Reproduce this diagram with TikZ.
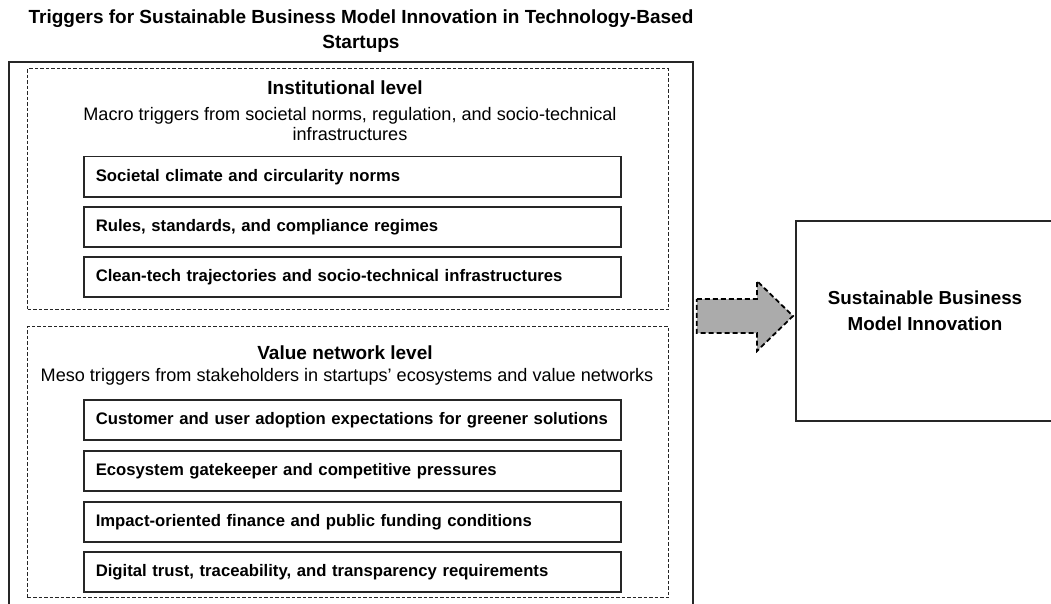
\documentclass[tikz,border=0pt]{standalone}
\usepackage{fontspec}
\setmainfont{Liberation Sans}
\usetikzlibrary{calc}
\begin{document}
\begin{tikzpicture}[x=1pt,y=-1pt,
  frame/.style={draw=black!85, line width=1.8pt, anchor=north west, inner sep=0pt},
  levelbox/.style={draw=black!85, dash pattern=on 3.5pt off 2pt, line width=1.2pt, anchor=north west, inner sep=0pt},
  trigger/.style={draw=black!85, line width=1.5pt, anchor=north west, minimum width=537pt, minimum height=40pt,
    text width=513pt, inner xsep=12pt, align=left, font=\bfseries\fontsize{16.7}{19}\selectfont},
  heading/.style={font=\bfseries\fontsize{19}{22}\selectfont},
  desc/.style={font=\fontsize{18.1}{19.5}\selectfont, align=center},
  blockarrow/.style={draw=black, dash pattern=on 5pt off 3pt, line width=1.8pt, fill=black!33, line join=miter}
]
\useasboundingbox (0,0) rectangle (1051,604);
\clip (0,0) rectangle (1051,604);
\fill[white] (0,0) rectangle (1051,604);

% title
\node[font=\bfseries\fontsize{19}{25}\selectfont, align=center] (title) at (361,31)
  {Triggers for Sustainable Business Model Innovation in Technology-Based\\Startups};

% outer frame of the triggers
\node[frame, minimum width=684pt, minimum height=560pt] (outer) at (8,61) {};

% institutional level
\node[levelbox, minimum width=641pt, minimum height=241pt] (inst) at (27,68) {};
\node[heading] (insthead) at (345,88) {Institutional level};
\node[desc] (instdesc) at (350,124) {Macro triggers from societal norms, regulation, and socio-technical\\infrastructures};
\node[trigger] (t1) at (83,156) {Societal climate and circularity norms};
\node[trigger] (t2) at (83,206) {Rules, standards, and compliance regimes};
\node[trigger] (t3) at (83,256) {Clean-tech trajectories and socio-technical infrastructures};

% value network level
\node[levelbox, minimum width=641pt, minimum height=271pt] (vnet) at (27,326) {};
\node[heading] (vnethead) at (345,353) {Value network level};
\node[desc] (vnetdesc) at (347,377) {Meso triggers from stakeholders in startups’ ecosystems and value networks};
\node[trigger] (v1) at (83,399) {Customer and user adoption expectations for greener solutions};
\node[trigger] (v2) at (83,450) {Ecosystem gatekeeper and competitive pressures};
\node[trigger] (v3) at (83,501) {Impact-oriented finance and public funding conditions};
\node[trigger] (v4) at (83,551) {Digital trust, traceability, and transparency requirements};

% outcome
\node[frame, minimum width=262pt, minimum height=200pt] (sbmi) at (795,220) {};
\node[font=\bfseries\fontsize{18.8}{26}\selectfont, align=center] (sbmitext) at (925,311)
  {Sustainable Business\\Model Innovation};

% block arrow from the triggers to the outcome
\coordinate (atail) at ($(outer.east |- 0,316)+(3,0)$);
\coordinate (atip) at ($(sbmi.west |- atail)+(-2,0)$);
\draw[blockarrow]
  ($(atail)+(0,-17)$) -- ($(atip)+(-36,-17)$) -- ($(atip)+(-36,-35)$) -- (atip)
  -- ($(atip)+(-36,35)$) -- ($(atip)+(-36,17)$) -- ($(atail)+(0,17)$) -- cycle;
\end{tikzpicture}
\end{document}
